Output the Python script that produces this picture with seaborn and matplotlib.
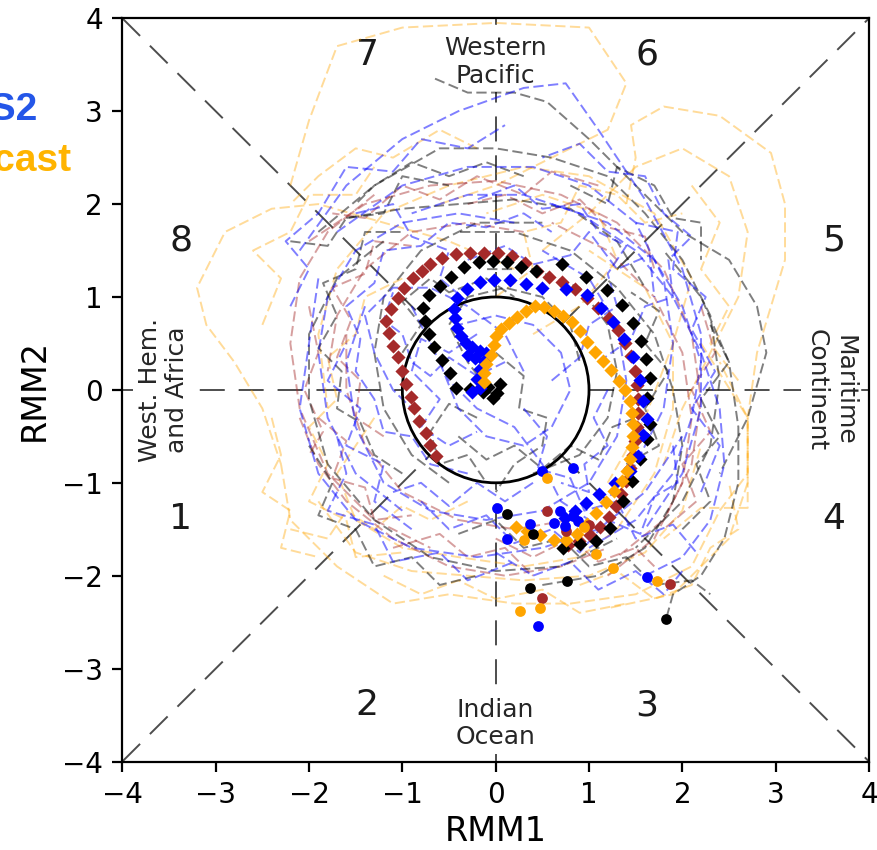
import numpy as np
import pandas as pd
import matplotlib
matplotlib.use("Agg")
import matplotlib.pyplot as plt
import seaborn as sns
from matplotlib.patches import Circle

# ---------------- data (RMM1, RMM2) ----------------
brown_track = [(-0.64,-0.71),(-0.70,-0.59),(-0.75,-0.46),(-0.82,-0.33),(-0.87,-0.20),(-0.91,-0.08),
               (-0.96,0.06),(-1.00,0.20),(-1.05,0.35),(-1.10,0.47),(-1.14,0.61),(-1.18,0.74),(-1.12,0.87),
               (-1.05,0.99),(-0.98,1.10),(-0.89,1.20),(-0.79,1.28),(-0.70,1.36),(-0.57,1.42),(-0.43,1.46),
               (-0.28,1.47),(-0.13,1.47),(0.02,1.47),(0.17,1.44),(0.31,1.37),(0.44,1.28),(0.57,1.22),
               (0.71,1.16),(0.85,1.09),(0.98,0.99),(1.10,0.88),(1.21,0.77),(1.31,0.64),(1.39,0.51),
               (1.45,0.36),(1.49,0.20),(1.51,0.05),(1.53,-0.10),(1.53,-0.25),(1.51,-0.40),(1.49,-0.55),
               (1.47,-0.70),(1.44,-0.84),(1.40,-0.98),(1.34,-1.12),(1.29,-1.25),(1.21,-1.37),(1.12,-1.48),
               (1.01,-1.56),(0.89,-1.63),(0.77,-1.67)]
black_track = [(0.01,-0.03),(-0.08,0.03),(0.05,0.06),(-0.03,-0.09),(-0.14,-0.02),(-0.28,0.01),(-0.42,0.02),
               (-0.49,0.18),(-0.58,0.32),(-0.66,0.46),(-0.71,0.60),(-0.76,0.74),(-0.78,0.88),(-0.71,1.02),
               (-0.60,1.12),(-0.48,1.22),(-0.34,1.32),(-0.18,1.38),(-0.03,1.39),(0.12,1.38),(0.27,1.32),
               (0.43,1.28),(0.71,1.35),(0.97,1.21),(1.19,1.07),(1.35,0.91),(1.47,0.72),(1.56,0.53),
               (1.61,0.33),(1.65,0.13),(1.62,-0.09),(1.65,-0.37),(1.62,-0.53),(1.55,-0.74),(1.46,-0.98),
               (1.36,-1.20),(1.22,-1.49),(1.08,-1.63),(0.90,-1.66),(0.72,-1.70)]
blue_track = [(-0.17,0.02),(-0.25,-0.02),(-0.20,0.12),(-0.17,0.22),(-0.13,0.31),(-0.10,0.40),(-0.17,0.42),
              (-0.25,0.46),(-0.30,0.38),(-0.22,0.34),(-0.32,0.51),(-0.37,0.58),(-0.41,0.67),(-0.44,0.77),
              (-0.45,0.87),(-0.41,0.99),(-0.31,1.09),(-0.17,1.16),(-0.02,1.18),(0.15,1.18),(0.32,1.14),
              (0.50,1.10),(0.75,1.09),(0.98,1.02),(1.13,0.88),(1.26,0.73),(1.37,0.55),(1.47,0.35),
              (1.55,0.11),(1.58,-0.12),(1.62,-0.31),(1.58,-0.49),(1.53,-0.71),(1.44,-0.87),(1.28,-1.00),
              (1.11,-1.12),(0.97,-1.22),(0.85,-1.30),(0.74,-1.38)]
orange_track = [(-0.12,0.08),(-0.12,0.18),(-0.10,0.28),(-0.05,0.38),(-0.02,0.48),(0.00,0.58),(0.06,0.66),
                (0.14,0.72),(0.23,0.78),(0.32,0.85),(0.42,0.90),(0.52,0.89),(0.62,0.85),(0.72,0.80),
                (0.82,0.73),(0.90,0.63),(0.98,0.52),(1.06,0.41),(1.15,0.31),(1.24,0.21),(1.32,0.10),
                (1.39,0.00),(1.44,-0.12),(1.46,-0.25),(1.47,-0.37),(1.47,-0.50),(1.46,-0.62),(1.44,-0.74),
                (1.41,-0.87),(1.35,-0.98),(1.27,-1.09),(1.18,-1.21),(1.08,-1.33),(0.98,-1.44),(0.87,-1.55),
                (0.75,-1.62),(0.62,-1.62),(0.48,-1.56),(0.34,-1.52),(0.22,-1.48)]

black_dots = [(0.40,-1.55),(0.12,-1.34),(0.76,-2.06),(0.37,-2.13),(1.82,-2.47)]
blue_dots = [(0.69,-1.30),(0.83,-1.36),(0.74,-1.47),(0.88,-1.41),(0.63,-1.43),(0.37,-1.44),(0.12,-1.60),
             (0.01,-1.27),(0.50,-0.87),(0.83,-0.84),(1.62,-2.01),(0.45,-2.54)]
orange_dots = [(0.55,-0.95),(1.08,-1.77),(1.26,-1.92),(1.73,-2.06),(0.47,-2.35),(0.26,-2.38),(0.30,-1.62),
               (0.95,-1.48)]
brown_dots = [(0.55,-1.30),(0.50,-2.24),(1.87,-2.09),(0.75,-1.52),(1.00,-1.45)]

blue_members = [
    [(-2.1,1.5),(-1.6,2.2),(-1.0,2.7),(-0.4,3.0),(0.3,3.25),(0.75,3.3),(1.1,2.8),(1.6,2.05),(2.0,1.3),(2.2,0.6),(2.2,-0.2),(2.0,-0.9),(1.6,-1.5)],
    [(-1.9,1.2),(-2.0,0.5),(-2.1,-0.2),(-1.9,-0.9),(-1.5,-1.4),(-0.9,-1.7),(-0.2,-1.8),(0.5,-1.7),(1.1,-1.5),(1.6,-1.1),(2.0,-0.5)],
    [(1.6,-2.0),(2.0,-1.8),(2.3,-1.4),(2.45,-0.8),(2.4,-0.2),(2.2,0.4),(1.9,1.0),(1.5,1.5),(0.9,1.9),(0.3,2.1),(-0.3,2.1),(-0.9,1.9)],
    [(-1.4,0.9),(-1.6,0.3),(-1.5,-0.4),(-1.2,-1.0),(-0.7,-1.3),(-0.1,-1.4),(0.5,-1.3),(1.0,-1.0),(1.3,-0.5),(1.4,0.1),(1.3,0.7),(1.0,1.2),(0.5,1.5)],
    [(-0.6,0.3),(-0.4,-0.2),(-0.1,-0.5),(0.3,-0.6),(0.6,-0.4),(0.8,0.0),(0.7,0.4),(0.4,0.7),(0.0,0.8),(-0.4,0.7)],
    [(0.2,1.8),(-0.4,1.9),(-1.0,1.8),(-1.5,1.5),(-1.8,1.0),(-1.9,0.4),(-1.8,-0.3),(-1.5,-0.9),(-1.0,-1.3)],
    [(1.0,-1.7),(1.5,-1.4),(1.9,-0.9),(2.1,-0.3),(2.2,0.3),(2.0,0.9),(1.7,1.4),(1.2,1.8),(0.6,2.0)],
    [(-0.9,0.9),(-0.7,0.5),(-0.5,0.1),(-0.2,-0.2),(0.2,-0.4),(0.5,-0.8),(0.7,-1.2),(1.0,-1.4)],
    [(0.3,0.2),(0.1,0.6),(-0.3,0.9),(-0.7,1.1),(-1.1,1.1),(-1.4,0.8),(-1.3,0.4),(-1.1,0.0),(-0.8,-0.3)],
    [(-1.7,1.7),(-1.0,2.2),(-0.3,2.4),(0.4,2.4),(1.0,2.2),(1.5,1.8),(1.8,1.2),(1.9,0.5),(1.8,-0.2),(1.5,-0.8),(1.1,-1.3)],
    [(-0.3,-0.9),(-0.7,-0.8),(-0.9,-0.5),(-1.2,-0.45),(-1.3,-0.1),(-1.5,0.2),(-1.45,0.55),(-1.6,0.9),(-1.3,1.15),(-1.2,1.5),(-0.8,1.55),(-0.5,1.8),(-0.1,1.75),(0.3,1.9),(0.6,1.7)],
    [(0.6,0.1),(0.9,0.35),(1.0,0.7),(1.3,0.9),(1.2,1.25),(1.4,1.55),(1.1,1.7),(0.9,2.0),(0.5,1.95),(0.2,2.2),(-0.2,2.05)],
    [(-0.8,-1.2),(-0.5,-1.5),(-0.1,-1.35),(0.2,-1.65),(0.6,-1.5),(0.9,-1.75),(1.2,-1.4),(1.55,-1.55),(1.7,-1.15),(1.95,-1.0),(1.9,-0.6)],
    [(0.1,0.3),(-0.2,0.15),(-0.5,0.35),(-0.7,0.15),(-0.9,0.3),(-1.0,0.6),(-1.2,0.75),(-1.1,1.05)],
    [(1.1,0.3),(1.45,0.55),(1.6,0.9),(1.9,1.0),(1.85,1.4),(2.1,1.65),(1.8,1.9),(1.6,2.3),(1.2,2.35),(0.9,2.65),(0.5,2.5)],
    [(-1.7,-0.5),(-1.6,-0.9),(-1.8,-1.3),(-1.3,-1.45),(-1.1,-1.85),(-0.6,-1.75),(-0.3,-2.05),(0.2,-1.85)],
    [(0.3,-0.2),(0.55,-0.5),(0.45,-0.85),(0.8,-0.95),(0.95,-1.3),(1.3,-1.2),(1.5,-1.6),(1.9,-1.45),(2.15,-1.75)],
    [(-0.2,0.6),(-0.5,0.4),(-0.8,0.55),(-0.9,0.2),(-0.6,-0.1),(-0.8,-0.4),(-0.5,-0.6),(-0.2,-0.45)],
    [(-2.2,0.9),(-2.0,1.3),(-2.25,1.6),(-1.9,1.9),(-1.6,2.4),(-1.1,2.35),(-0.8,2.7),(-0.3,2.6),(0.1,2.85)],
    [(2.2,-1.1),(2.4,-0.6),(2.1,-0.2),(2.35,0.2),(2.1,0.65),(2.25,1.0),(1.9,1.3),(1.95,1.7),(1.5,1.8)],
    [(-0.9,-1.5),(-1.3,-1.2),(-1.2,-0.8),(-1.6,-0.6),(-1.45,-0.2),(-1.8,0.1),(-1.6,0.5)],
    [(0.4,-1.0),(0.1,-1.2),(-0.2,-1.0),(-0.5,-1.25),(-0.8,-1.0),(-1.1,-1.1)],
    [(1.2,0.0),(1.05,-0.3),(1.2,-0.6),(0.95,-0.8),(1.0,-1.1),(0.7,-1.0)],
    [(-0.3,1.4),(0.1,1.55),(0.4,1.35),(0.8,1.45),(1.0,1.7),(1.3,1.3),(1.65,1.45),(1.7,1.0)],
    [(-1.5,1.9),(-1.1,2.0),(-0.9,1.65),(-0.5,1.5),(-0.6,1.2),(-0.3,0.95)],
    [(0.0,-1.75),(0.4,-2.0),(0.8,-1.85),(1.1,-2.15),(1.5,-1.95),(1.8,-2.2),(2.0,-1.95)],
]
gray_members = [
    [(-0.65,3.35),(-0.3,3.2),(0.2,3.2),(0.55,3.1),(1.0,2.7),(1.5,2.2),(2.0,1.7),(2.5,1.4),(2.8,0.9),(2.9,0.4),(2.7,-0.3),(2.4,-0.9)],
    [(-1.9,1.7),(-1.3,2.2),(-0.6,2.6),(0.0,2.6),(0.6,2.5),(1.2,2.3),(1.6,1.9),(2.0,1.4),(2.3,0.8),(2.4,0.1),(2.3,-0.6),(2.0,-1.2),(1.5,-1.7)],
    [(1.83,-2.45),(1.9,-2.2),(2.2,-2.0),(2.45,-1.6),(2.6,-1.0),(2.6,-0.4),(2.5,0.3),(2.2,1.0),(1.8,1.5)],
    [(-1.2,1.6),(-1.7,1.2),(-2.0,0.6),(-2.0,-0.1),(-1.8,-0.8),(-1.3,-1.4),(-0.7,-1.8),(0.0,-1.95),(0.7,-1.9),(1.3,-1.6)],
    [(0.5,-2.1),(1.1,-2.0),(1.6,-1.7),(1.9,-1.2),(2.0,-0.6),(1.9,0.0),(1.7,0.6),(1.3,1.1),(0.8,1.5),(0.2,1.7),(-0.4,1.7)],
    [(0.0,-0.1),(-0.3,0.3),(-0.5,0.7),(-0.3,1.0),(0.1,1.1),(0.5,1.0),(0.8,0.7),(0.9,0.3)],
    [(-0.5,-1.0),(-0.9,-0.7),(-1.2,-0.2),(-1.3,0.4),(-1.2,1.0),(-0.8,1.5),(-0.2,1.8),(0.5,1.8)],
    [(0.4,-0.9),(0.9,-0.7),(1.2,-0.3),(1.3,0.2),(1.2,0.7),(0.9,1.1),(0.4,1.3),(-0.1,1.3)],
    [(-1.6,1.85),(-1.0,1.95),(-0.4,2.0),(0.2,2.05),(0.8,1.95),(1.3,1.6),(1.6,1.1)],
    [(-0.4,-0.5),(-0.1,-0.75),(0.2,-0.6),(0.5,-0.85),(0.8,-0.6),(1.1,-0.75),(1.25,-0.4),(1.5,-0.3)],
    [(-1.0,-0.9),(-1.3,-0.7),(-1.45,-0.35),(-1.7,-0.2),(-1.65,0.2),(-1.9,0.45),(-1.7,0.8),(-1.85,1.15),(-1.5,1.3),(-1.4,1.7),(-1.0,1.7)],
    [(0.8,2.2),(1.2,2.0),(1.3,2.4),(1.7,2.2),(1.9,1.85),(2.2,1.8),(2.2,1.4)],
    [(0.0,0.4),(0.3,0.15),(0.25,-0.2),(0.55,-0.3),(0.5,-0.6),(0.2,-0.8),(0.0,-1.1)],
    [(-0.4,-1.55),(0.0,-1.4),(0.3,-1.7),(0.7,-1.6),(1.0,-1.9),(1.4,-1.8),(1.7,-2.1),(2.1,-2.05),(2.3,-2.2)],
    [(-2.2,1.6),(-1.8,1.55),(-1.6,1.85),(-1.2,1.9),(-1.0,2.3),(-0.5,2.2)],
    [(-2.0,-0.6),(-1.75,-1.0),(-1.9,-1.35),(-1.5,-1.5),(-1.3,-1.9),(-0.9,-1.8),(-0.6,-2.1),(-0.2,-2.0)],
    [(2.0,-1.5),(2.3,-1.2),(2.15,-0.8),(2.4,-0.5),(2.2,-0.1),(2.5,0.3),(2.3,0.7)],
    [(-1.0,0.4),(-0.8,0.7),(-1.0,0.95),(-0.7,1.2),(-0.5,1.05),(-0.1,1.2),(0.2,1.0)],
    [(0.3,2.3),(-0.1,2.45),(-0.5,2.3),(-0.9,2.45),(-1.3,2.2),(-1.5,2.0)],
    [(1.4,-0.8),(1.75,-0.6),(1.6,-0.2),(1.85,0.2),(1.6,0.5),(1.75,0.85),(1.45,1.05)],
    [(-0.2,-0.3),(-0.5,-0.15),(-0.7,-0.45),(-0.6,-0.8),(-0.3,-0.7),(-0.1,-1.0)],
]
orange_members = [
    [(1.4,2.0),(1.5,2.5),(1.45,2.85),(1.8,3.05),(2.4,2.95),(2.95,2.55),(3.1,2.0),(3.1,1.4),(2.95,0.9),(2.8,0.4),(2.7,-0.3),(2.7,-1.0),(2.5,-1.6),(1.9,-2.2),(1.2,-2.35)],
    [(0.2,1.3),(-0.5,1.6),(-1.2,1.8),(-1.9,2.0),(-2.4,1.95),(-2.9,1.7),(-3.2,1.1),(-3.1,0.7),(-2.8,0.3),(-2.5,-0.2),(-2.3,-0.8)],
    [(-2.2,2.2),(-2.0,2.9),(-1.7,3.7),(-1.0,3.9),(0.0,3.95),(1.0,3.9),(1.4,3.3),(1.2,2.8),(0.6,2.5),(0.0,2.2),(-0.6,2.0)],
    [(-2.3,-0.8),(-2.2,-1.4),(-1.7,-1.9),(-1.1,-2.3),(-0.5,-2.2),(0.2,-2.3),(0.8,-2.3),(1.5,-2.2),(2.1,-1.9),(2.4,-1.3),(2.7,-0.9),(2.7,-0.3),(2.4,0.3)],
    [(-1.3,-0.3),(-1.7,-0.9),(-1.5,-1.4),(-1.0,-1.7),(-0.4,-1.8),(0.3,-1.9),(0.9,-1.8),(1.3,-1.5),(1.7,-0.9),(1.9,-0.2),(1.9,0.5),(1.6,1.1),(1.0,1.5)],
    [(1.2,-1.0),(1.6,-0.3),(1.9,0.5),(2.1,1.2),(1.7,1.9),(1.0,2.3),(0.3,2.4),(-0.5,2.2),(-1.2,1.9),(-1.7,1.3),(-1.9,0.6),(-1.8,-0.2)],
    [(0.5,1.5),(1.0,1.9),(1.5,2.4),(2.0,2.6),(2.5,2.3),(2.7,1.7),(2.6,1.0),(2.3,0.4),(2.0,-0.2),(1.8,-0.8)],
    [(0.4,0.6),(0.9,0.9),(1.3,1.4),(1.1,1.9),(0.5,2.1),(-0.1,1.9)],
    [(-1.9,-1.2),(-1.5,-1.75),(-0.9,-1.95),(-0.3,-2.0),(0.3,-2.05),(1.0,-2.0),(1.6,-1.75),(2.0,-1.3),(2.2,-0.6)],
    [(2.2,0.5),(2.7,-0.3),(2.7,-0.8),(2.7,-1.27),(2.2,-1.27),(1.8,-1.6)],
    [(-1.0,1.2),(-1.4,1.0),(-1.5,0.6),(-1.8,0.35),(-1.7,-0.1),(-2.0,-0.4),(-1.8,-0.8),(-2.0,-1.2),(-1.6,-1.4),(-1.5,-1.8),(-1.0,-1.75)],
    [(0.9,-2.1),(1.3,-1.95),(1.7,-2.25),(2.1,-2.1),(2.3,-1.7),(2.6,-1.5),(2.5,-1.0)],
    [(0.0,1.0),(0.4,1.3),(0.3,1.7),(0.7,1.8),(0.9,2.2),(1.3,2.1),(1.6,1.8),(2.0,1.9)],
    [(-0.3,-1.2),(-0.7,-1.4),(-1.0,-1.25),(-1.3,-1.5),(-1.6,-1.3),(-1.8,-1.6),(-2.2,-1.5)],
    [(-0.2,2.6),(-0.6,2.8),(-1.1,2.5),(-1.5,2.6),(-1.9,2.3),(-2.2,2.0)],
    [(-2.5,0.7),(-2.3,1.2),(-2.6,1.5),(-2.2,1.7),(-2.0,2.1),(-1.5,2.1),(-1.3,2.4)],
    [(2.1,2.2),(2.4,1.8),(2.2,1.3),(2.5,0.9),(2.3,0.5),(2.6,0.1)],
    [(-1.2,-2.0),(-0.8,-2.2),(-0.4,-2.05),(0.0,-2.25),(0.5,-2.15),(0.9,-2.4),(1.4,-2.3)],
    [(-2.4,-0.3),(-2.3,-0.7),(-2.5,-1.1),(-2.2,-1.3),(-2.3,-1.7),(-1.9,-1.8)],
]
brown_members = [
    [(-2.1,-0.3),(-1.9,-0.8),(-1.6,-1.2),(-1.1,-1.6),(-0.5,-1.9),(0.1,-2.0),(0.7,-1.9),(1.2,-1.7)],
    [(-1.3,2.1),(-1.8,1.7),(-2.1,1.2),(-2.2,0.5),(-2.1,-0.2),(-1.8,-0.9),(-1.3,-1.4),(-0.7,-1.7)],
    [(-2.0,1.6),(-1.4,2.0),(-0.7,2.2),(0.0,2.25),(0.7,2.1),(1.3,1.8),(1.8,1.3),(2.1,0.6),(2.2,-0.1),(2.1,-0.8),(1.8,-1.4),(1.3,-1.8)],
    [(-1.6,0.6),(-1.6,0.0),(-1.4,-0.6),(-1.0,-1.1),(-0.4,-1.4),(0.2,-1.5),(0.8,-1.4)],
    [(0.3,1.7),(-0.3,1.8),(-0.9,1.7),(-1.4,1.3),(-1.7,0.8),(-1.8,0.2)],
    [(1.2,-2.0),(1.7,-1.6),(2.0,-1.0),(2.1,-0.3),(2.0,0.4),(1.7,1.0),(1.2,1.5),(0.6,1.8)],
    [(-1.2,-0.5),(-1.5,-0.3),(-1.45,0.1),(-1.7,0.35),(-1.55,0.75),(-1.75,1.1),(-1.4,1.25),(-1.3,1.6),(-0.9,1.55)],
    [(0.0,-1.6),(0.4,-1.8),(0.8,-1.6),(1.1,-1.85),(1.5,-1.7),(1.7,-1.9)],
    [(-0.3,2.0),(0.1,2.1),(0.5,1.9),(0.9,2.05),(1.2,1.75),(1.6,1.65),(1.7,1.3)],
    [(-1.9,-0.3),(-1.6,-0.55),(-1.75,-0.95),(-1.4,-1.05),(-1.3,-1.4),(-0.9,-1.35)],
    [(1.1,2.2),(0.6,2.35),(0.3,2.1),(-0.2,2.3),(-0.6,2.05),(-1.0,2.2),(-1.4,1.85),(-1.75,1.9)],
    [(2.2,0.9),(2.35,0.4),(2.1,0.0),(2.3,-0.45),(2.0,-0.8),(2.15,-1.2),(1.8,-1.5)],
    [(-1.1,-1.7),(-0.6,-1.55),(-0.3,-1.8),(0.1,-1.7),(0.4,-2.0)],
    [(-2.0,0.9),(-1.9,0.4),(-2.05,0.0),(-1.85,-0.45),(-2.0,-0.7)],
]

phase_labels = ["1", "2", "3", "4", "5", "6", "7", "8"]
region_labels = ["West. Hem.\nand Africa", "Indian\nOcean", "Maritime\nContinent", "Western\nPacific"]
ticks = [-4, -3, -2, -1, 0, 1, 2, 3, 4]


def members_df(members):
    rows = []
    for m, pts in enumerate(members):
        for i, (x, y) in enumerate(pts):
            rows.append({"member": m, "step": i, "RMM1": x, "RMM2": y})
    return pd.DataFrame(rows)


def pts_df(pts):
    return pd.DataFrame(pts, columns=["RMM1", "RMM2"])


# ---------------- figure ----------------
plt.rcParams["font.family"] = "DejaVu Sans"
plt.rcParams["lines.scale_dashes"] = False
fig = plt.figure(figsize=(877 / 200, 850 / 200), dpi=200)
ax = fig.add_axes([0.1395, 0.1041, 0.8514, 0.8744])
ax.set_xlim(-4, 4)
ax.set_ylim(-4, 4)

# guide lines
gcol = "0.3"
dash = (9, 5)
r = np.sqrt(0.5)
for (x0, y0, x1, y1) in [(-4, 0, -1, 0), (1, 0, 4, 0), (0, -4, 0, -1), (0, 1, 0, 4),
                         (-4, -4, -r, -r), (r, r, 4, 4), (-4, 4, -r, r), (r, -r, 4, -4)]:
    ax.plot([x0, x1], [y0, y1], color=gcol, lw=0.7, dashes=dash, zorder=1)

# region text
txt_kw = dict(fontsize=9, ha="center", va="center", color="0.15", zorder=2,
              bbox=dict(facecolor="white", edgecolor="none", pad=1.5))
ax.text(-3.56, 0.0, region_labels[0], rotation=90, **txt_kw)
ax.text(0.0, -3.59, region_labels[1], **txt_kw)
ax.text(3.59, 0.0, region_labels[2], rotation=-90, **txt_kw)
ax.text(0.0, 3.53, region_labels[3], **txt_kw)

# phase numbers
ppos = [(-3.5, -1.5), (-1.5, -3.5), (1.5, -3.5), (3.5, -1.5),
        (3.5, 1.5), (1.5, 3.5), (-1.5, 3.5), (-3.5, 1.5)]
for lab, (px, py) in zip(phase_labels, ppos):
    ax.text(px, py, lab, fontsize=13, color="0.1", zorder=2)

# ensemble members (dashed)
for members, col, al in [(orange_members, "orange", 0.4), (brown_members, "brown", 0.45),
                         (gray_members, "black", 0.5), (blue_members, "blue", 0.5)]:
    df = members_df(members)
    sns.lineplot(data=df, x="RMM1", y="RMM2", units="member", estimator=None, sort=False,
                 color=col, alpha=al, lw=0.7, linestyle="--", ax=ax, zorder=3)

# unit circle
ax.add_patch(Circle((0, 0), 1.0, fill=False, color="black", lw=1.0, zorder=4))

# observed/forecast markers
for pts, col in [(brown_track, "brown"), (black_track, "black"),
                 (blue_track, "blue"), (orange_track, "orange")]:
    d = pts_df(pts)
    sns.scatterplot(data=d, x="RMM1", y="RMM2", marker="D", s=13, color=col,
                    linewidth=0, ax=ax, zorder=5)
for pts, col in [(brown_dots, "brown"), (black_dots, "black"),
                 (blue_dots, "blue"), (orange_dots, "orange")]:
    d = pts_df(pts)
    sns.scatterplot(data=d, x="RMM1", y="RMM2", marker="o", s=15, color=col,
                    linewidth=0, ax=ax, zorder=5)

ax.set_xticks(ticks)
ax.set_yticks(ticks)
ax.tick_params(labelsize=10)
ax.set_xlabel("RMM1", fontsize=12, labelpad=2)
ax.set_ylabel("RMM2", fontsize=12)

# cropped header text at left edge
fig.text(38 / 877, 1 - 120 / 850, "CFS2", color="#2456E8", fontsize=14, fontweight="bold",
         family="Liberation Sans", ha="right", va="baseline")
fig.text(72 / 877, 1 - 171 / 850, "Forecast", color="#FFB400", fontsize=14, fontweight="bold",
         family="Liberation Sans", ha="right", va="baseline")

fig.savefig("out.png", dpi=200)
